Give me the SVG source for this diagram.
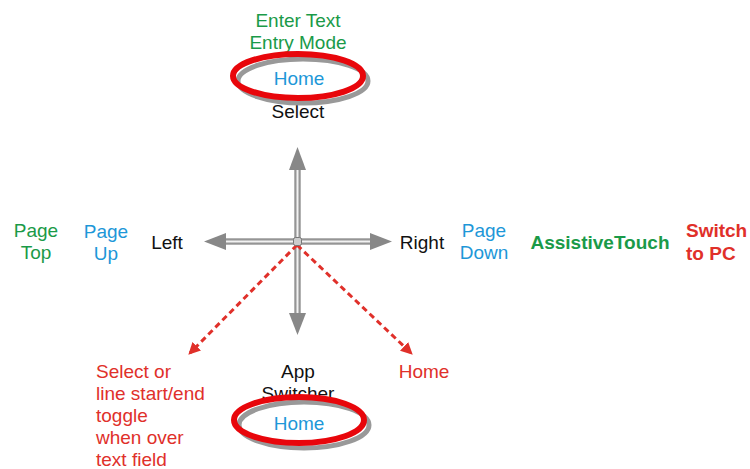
<svg xmlns="http://www.w3.org/2000/svg" width="750" height="469" viewBox="0 0 750 469">
<defs>
<linearGradient id="gv" x1="0" y1="0" x2="1" y2="0">
<stop offset="0" stop-color="#666"/><stop offset="0.5" stop-color="#f2f2f2"/><stop offset="1" stop-color="#666"/>
</linearGradient>
<linearGradient id="gh" x1="0" y1="0" x2="0" y2="1">
<stop offset="0" stop-color="#666"/><stop offset="0.5" stop-color="#f2f2f2"/><stop offset="1" stop-color="#666"/>
</linearGradient>
<marker id="ra" viewBox="0 0 10 10" refX="8" refY="5" markerWidth="4" markerHeight="4" orient="auto" markerUnits="strokeWidth">
<path d="M0,0 L10,5 L0,10 Z" fill="#e0302a"/>
</marker>
<style>
text{font-family:"Liberation Sans",Arial,sans-serif;font-size:19px;text-anchor:middle}
.g{fill:#1a9a48}.b{fill:#1d97d8}.k{fill:#111}.r{fill:#e0302a}
.bold{font-weight:bold}
.ring{fill:none;stroke:#e8060b;stroke-width:6}
.shadow{fill:none;stroke:#999;stroke-width:5}
.head{fill:#888}
.dash{stroke:#e0302a;stroke-width:3;stroke-dasharray:6 4;fill:none}
.st{text-anchor:start}
</style>
</defs>
<g id="top">
<text class="g" x="298" y="27">Enter Text</text>
<text class="g" x="298" y="49">Entry Mode</text>
<text class="k" x="298" y="118">Select</text>
<ellipse class="shadow" cx="303" cy="81" rx="65" ry="22"/>
<ellipse class="ring" cx="298" cy="76" rx="65" ry="22"/>
<text class="b" x="299" y="85">Home</text>
</g>
<g id="connectors">
<rect x="294.5" y="168" width="6" height="148" fill="url(#gv)"/>
<rect x="222" y="238.5" width="150" height="6" fill="url(#gh)"/>
<path class="head" d="M297.5,147 L306,170 L289,170 Z"/>
<path class="head" d="M297.5,335 L306,313 L289,313 Z"/>
<path class="head" d="M204,241.5 L226,233 L226,250 Z"/>
<path class="head" d="M392,241.5 L370,233 L370,250 Z"/>
<line class="dash" x1="297" y1="245" x2="190" y2="353" marker-end="url(#ra)"/>
<line class="dash" x1="297" y1="245" x2="411" y2="353" marker-end="url(#ra)"/>
<rect x="293.5" y="237.5" width="8" height="8" rx="2" fill="#ccc" stroke="#777" stroke-width="1"/>
</g>
<g id="left">
<text class="k" x="167" y="249">Left</text>
<text class="b" x="106" y="238">Page</text>
<text class="b" x="106" y="260">Up</text>
<text class="g" x="36" y="237">Page</text>
<text class="g" x="36" y="259">Top</text>
</g>
<g id="right">
<text class="k" x="422" y="249">Right</text>
<text class="b" x="484" y="237">Page</text>
<text class="b" x="484" y="259">Down</text>
<text class="g bold" x="600" y="249">AssistiveTouch</text>
<text class="r bold st" x="686" y="237">Switch</text>
<text class="r bold st" x="686" y="260">to PC</text>
</g>
<g id="downleft">
<text class="r st" x="96" y="378">Select or</text>
<text class="r st" x="96" y="400">line start/end</text>
<text class="r st" x="96" y="422">toggle</text>
<text class="r st" x="96" y="444">when over</text>
<text class="r st" x="96" y="466">text field</text>
</g>
<g id="downright">
<text class="r" x="424" y="378">Home</text>
</g>
<g id="bottom">
<text class="k" x="298" y="378">App</text>
<text class="k" x="298" y="400">Switcher</text>
<ellipse class="shadow" cx="304" cy="425" rx="65" ry="23"/>
<ellipse class="ring" cx="299" cy="420" rx="65" ry="23"/>
<text class="b" x="299" y="430">Home</text>
</g>
</svg>
